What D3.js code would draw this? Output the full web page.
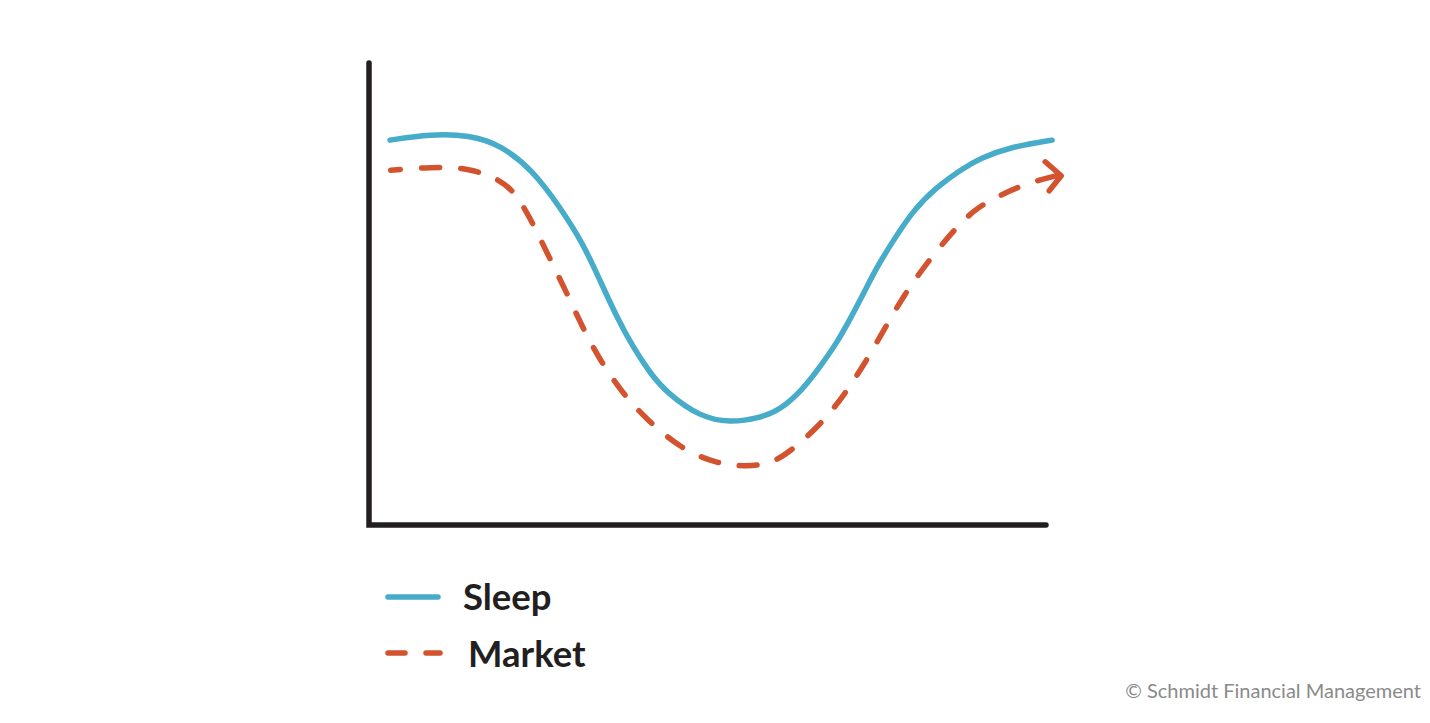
<!DOCTYPE html>
<html><head><meta charset="utf-8">
<script src="https://cdn.jsdelivr.net/npm/d3@7"></script>
<style>html,body{margin:0;padding:0;background:#fff;}svg{display:block;}</style>
</head><body>
<svg id="c" width="1430" height="723"></svg>
<script>
const seriesNames = ["Sleep", "Market"];
const sleepX = [3.1, 9.0, 14.9, 19.4, 24.2, 28.2, 31.6, 34.1, 36.6, 39.0, 41.5, 44.0, 48.9, 53.3, 57.8, 60.7, 64.0, 66.6, 69.1, 71.0, 72.8, 75.0, 77.2, 80.4, 83.9, 87.3, 90.3, 94.7, 100.9];
const sleepY = [83.3, 84.6, 84.4, 82.3, 76.8, 68.8, 61.0, 53.0, 45.0, 38.5, 32.9, 28.6, 23.4, 22.1, 23.2, 24.9, 29.2, 34.2, 39.4, 44.4, 49.4, 55.8, 61.0, 68.2, 73.2, 76.8, 79.4, 81.8, 83.3];
const marketX = [3.2, 9.0, 14.9, 19.4, 21.6, 23.8, 26.3, 29.0, 31.5, 34.1, 37.4, 41.1, 45.9, 51.0, 55.5, 59.2, 62.2, 66.6, 70.0, 73.3, 76.2, 79.2, 82.4, 85.8, 89.2, 93.2, 97.6, 102.1];
const marketY = [76.8, 77.5, 77.3, 74.7, 71.9, 66.5, 58.9, 50.9, 42.9, 35.7, 28.6, 22.7, 16.7, 13.4, 12.6, 13.2, 15.8, 21.6, 27.7, 35.1, 42.6, 50.2, 56.7, 62.8, 68.2, 71.4, 74.2, 75.8];
const credit = "© Schmidt Financial Management";

const svg = d3.select("#c");
const x = d3.scaleLinear().domain([0, 100]).range([369, 1046]);
const y = d3.scaleLinear().domain([0, 100]).range([525, 63]);
const blue = "#46acca", orange = "#d2532d", ink = "#231f20";

// axes
svg.append("path").attr("d", `M${x(0)},${y(100)}L${x(0)},${y(0)}L${x(100)},${y(0)}`)
  .attr("fill", "none").attr("stroke", ink).attr("stroke-width", 5.5)
  .attr("stroke-linecap", "round").attr("stroke-linejoin", "miter");

const line = d3.line().x(d => x(d[0])).y(d => y(d[1])).curve(d3.curveBasis);
const sleep = sleepX.map((v, i) => [v, sleepY[i]]);
const market = marketX.map((v, i) => [v, marketY[i]]);

svg.append("path").attr("d", line(sleep)).attr("fill", "none")
  .attr("stroke", blue).attr("stroke-width", 5.5).attr("stroke-linecap", "round");

svg.append("path").attr("d", line(market)).attr("fill", "none")
  .attr("stroke", orange).attr("stroke-width", 5.5).attr("stroke-linecap", "round")
  .attr("stroke-dasharray", "18,21").attr("stroke-dashoffset", 8);

// arrowhead at end of market
const end = market[market.length - 1];
const ex = x(end[0]), ey = y(end[1]);
svg.append("path").attr("d", `M${ex - 15},${ey - 13}L${ex + 1},${ey + 1}L${ex - 11},${ey + 16}`)
  .attr("fill", "none").attr("stroke", orange).attr("stroke-width", 5.5)
  .attr("stroke-linecap", "round").attr("stroke-linejoin", "round");

// legend
svg.append("line").attr("x1", 388).attr("x2", 438).attr("y1", 597).attr("y2", 597)
  .attr("stroke", blue).attr("stroke-width", 5.5).attr("stroke-linecap", "round");
svg.append("line").attr("x1", 388).attr("x2", 440).attr("y1", 653).attr("y2", 653)
  .attr("stroke", orange).attr("stroke-width", 5.5).attr("stroke-linecap", "round")
  .attr("stroke-dasharray", "17,21");
svg.append("text").attr("x", 463).attr("y", 610).text(seriesNames[0])
  .attr("font-family", "Lato").attr("font-weight", 700).attr("font-size", 36.5).attr("fill", ink);
svg.append("text").attr("x", 468).attr("y", 667).text(seriesNames[1])
  .attr("font-family", "Lato").attr("font-weight", 700).attr("font-size", 36.5).attr("fill", ink);

svg.append("text").attr("x", 1421).attr("y", 698).attr("text-anchor", "end").text(credit)
  .attr("font-family", "Lato").attr("font-size", 20).attr("fill", "#8a8a8a");
</script>
</body></html>
